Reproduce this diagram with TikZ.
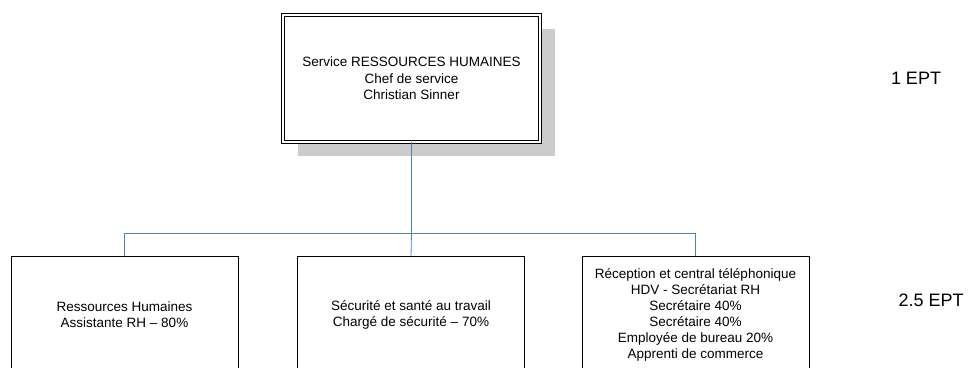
\documentclass[tikz,border=0pt]{standalone}
\usepackage{fontspec}
\setmainfont{Liberation Sans}
\usetikzlibrary{shadows}
\definecolor{linkblue}{RGB}{79,129,189}

\begin{document}
\begin{tikzpicture}[x=1pt,y=1pt,
  unit/.style={draw, line width=0.8pt, minimum width=227pt, minimum height=117pt,
    align=center, anchor=north, font=\fontsize{13.5}{16}\selectfont},
  link/.style={draw=linkblue, line width=0.8pt},
  ept/.style={font=\fontsize{18}{22}\selectfont}]

\useasboundingbox (0,0) rectangle (968,-367);
\clip (0,0) rectangle (968,-367);

% chef de service
\node[draw, double, double distance=2.5pt, line width=0.9pt, fill=white,
  minimum width=256.7pt, minimum height=126.7pt, align=center,
  font=\fontsize{13.5}{16.5}\selectfont,
  drop shadow={shadow xshift=15pt, shadow yshift=-14pt, fill=gray!40, opacity=1}]
  (chef) at (411.5,-78.5) {Service RESSOURCES HUMAINES\\Chef de service\\Christian Sinner};
\node[ept] (eptchef) at (916,-78.5) {1 EPT};

% unites
\node[unit] (rh) at (124.5,-256) {Ressources Humaines\\Assistante RH -- 80\%};
\node[unit] (secu) at (411,-256) {Sécurité et santé au travail\\Chargé de sécurité -- 70\%};
\node[unit] (recep) at (695.5,-256) {Réception et central téléphonique\\HDV - Secrétariat RH\\Secrétaire 40\%\\Secrétaire 40\%\\Employée de bureau 20\%\\Apprenti de commerce};
\node[ept] (eptunits) at (931,-300) {2.5 EPT};

% liens
\draw[link] (chef.south) -- ++(0,-91) coordinate (fork);
\draw[link] (fork) -| (rh.north);
\draw[link] (fork) -- (secu.north);
\draw[link] (fork) -| (recep.north);

\end{tikzpicture}
\end{document}
